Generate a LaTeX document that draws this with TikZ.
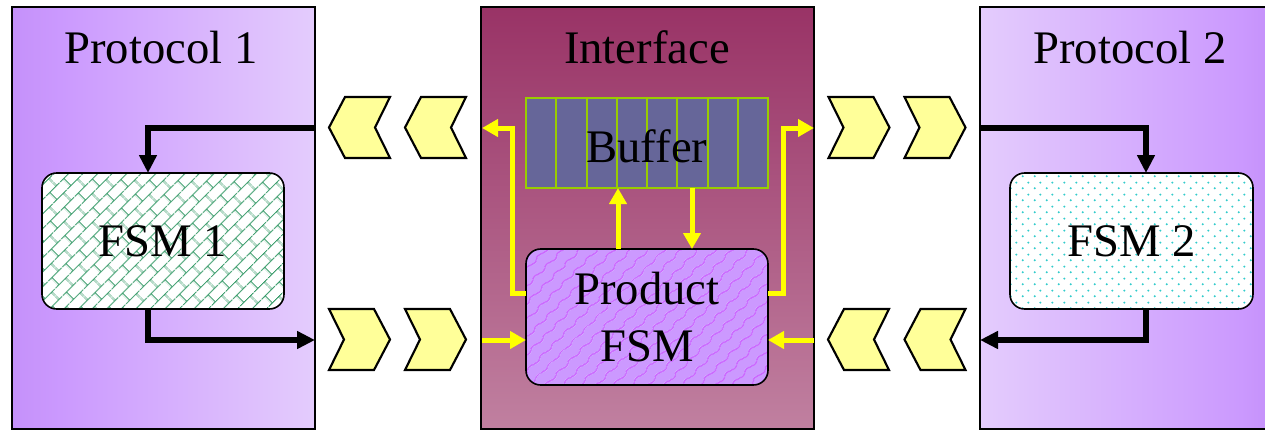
\documentclass[tikz,border=0pt]{standalone}
\usepackage{fontspec}
\setmainfont{Liberation Serif}
\usetikzlibrary{arrows.meta,patterns.meta,calc}

\definecolor{protoEdge}{RGB}{197,145,250}
\definecolor{protoDark}{RGB}{203,153,254}
\definecolor{protoLight}{RGB}{228,204,253}
\definecolor{ifTop}{RGB}{153,51,102}
\definecolor{ifBottom}{RGB}{192,128,160}
\definecolor{bufFill}{RGB}{102,102,153}
\definecolor{bufLine}{RGB}{153,204,0}
\definecolor{chevFill}{RGB}{255,255,153}
\definecolor{brickGreen}{RGB}{51,153,102}
\definecolor{dotTeal}{RGB}{51,204,204}
\definecolor{prodFill}{RGB}{204,153,255}
\definecolor{prodLine}{RGB}{204,102,255}
\definecolor{arrowYellow}{RGB}{255,255,0}

% panel gradients (the path box maps to 25bp..75bp)
\pgfdeclarehorizontalshading{protoLeft}{100bp}{color(0bp)=(protoEdge); color(25bp)=(protoEdge); color(33bp)=(protoDark); color(75bp)=(protoLight); color(100bp)=(protoLight)}
\pgfdeclarehorizontalshading{protoRight}{100bp}{color(0bp)=(protoLight); color(25bp)=(protoLight); color(70bp)=(protoDark); color(75bp)=(protoEdge); color(100bp)=(protoEdge)}

% diagonal brick fill
\tikzdeclarepattern{
  name=fsmbricks, type=uncolored,
  bounding box={(0pt,0pt) and (15pt,16pt)},
  tile size={(15pt,16pt)},
  tile transformation={rotate=45},
  code={
    \draw[line width=0.9pt] (0pt,4pt) -- (15pt,4pt) (0pt,12pt) -- (15pt,12pt)
      (3.75pt,4pt) -- (3.75pt,12pt) (11.25pt,12pt) -- (11.25pt,16pt) (11.25pt,0pt) -- (11.25pt,4pt);
  }
}

% staggered dot fill
\tikzdeclarepattern{
  name=fsmdots, type=uncolored,
  bounding box={(0pt,0pt) and (9pt,9pt)},
  tile size={(9pt,9pt)},
  code={
    \fill (2.25pt,2.25pt) circle[radius=0.9pt] (6.75pt,6.75pt) circle[radius=0.9pt];
  }
}

% wavy scale fill
\tikzdeclarepattern{
  name=prodscales, type=uncolored,
  bounding box={(0pt,0pt) and (13pt,9pt)},
  tile size={(13pt,9pt)},
  tile transformation={rotate=45},
  code={
    \draw[line width=1pt] (0pt,4.5pt) .. controls (3.25pt,8.5pt) and (9.75pt,0.5pt) .. (13pt,4.5pt);
  }
}

\tikzset{
  chev/.style={draw=black, fill=chevFill, line width=1.6pt, line join=miter},
  chevR/.pic={\path[chev] (-30.5,-30.5) -- (14.5,-30.5) -- (30.5,0) -- (14.5,30.5) -- (-30.5,30.5) -- (-15.5,0) -- cycle;},
  chevL/.pic={\path[chev] (30.5,-30.5) -- (-14.5,-30.5) -- (-30.5,0) -- (-14.5,30.5) -- (30.5,30.5) -- (15.5,0) -- cycle;}
}

\begin{document}
\begin{tikzpicture}[x=0.75pt,y=-0.75pt,
  every node/.style={inner sep=0pt, outer sep=0pt},
  panel/.style={draw=black, line width=1.5pt, anchor=north west, minimum height=316.5pt},
  title/.style={anchor=base, font=\fontsize{35}{42.75}\selectfont},
  fsmbox/.style={draw=black, line width=1.2pt, rounded corners=11pt, anchor=north west,
    minimum width=181.5pt, minimum height=102pt, align=center,
    font=\fontsize{35}{42.75}\selectfont},
  blk/.style={draw=black, line width=4pt, line join=miter,
    -{Triangle[length=13.5pt,width=12.75pt]}},
  ylw/.style={draw=arrowYellow, line width=3.75pt, line join=miter,
    -{Triangle[length=12pt,width=12.75pt]}},
]
\clip (0,0) rectangle (1265,430);

% panels
\node[panel, minimum width=227.25pt, shading=protoLeft] (p1) at (12,7) {};
\node[panel, minimum width=249.75pt, top color=ifTop, bottom color=ifBottom] (itf) at (481,7) {};
\node[panel, minimum width=217.5pt, shading=protoRight] (p2) at (980,7) {};

\node[title] (t1) at (161,63) {Protocol 1};
\node[title] (ti) at (647,63) {Interface};
\node[title] (t2) at (1130,63) {Protocol 2};

% buffer cells
\node[draw=bufLine, fill=bufFill, line width=1.5pt, anchor=north west,
  minimum width=181.5pt, minimum height=67.5pt] (buf) at (526,98) {};
\foreach \i in {1,...,7}
  \draw[bufLine, line width=1.5pt]
    ($(buf.north west)!\i/8!(buf.north east)$) -- ($(buf.south west)!\i/8!(buf.south east)$);
\node[title] (buftxt) at (647,162) {Buffer};

% state machines
\node[fsmbox, preaction={fill=white}, pattern=fsmbricks, pattern color=brickGreen] (fsm1) at (42,173) {FSM 1};
\node[fsmbox, minimum width=182.25pt, preaction={fill=white}, pattern=fsmdots, pattern color=dotTeal] (fsm2) at (1010,173) {FSM 2};
\node[fsmbox, preaction={fill=prodFill}, pattern=prodscales, pattern color=prodLine] (prod) at (526,249) {Product\\FSM};

% protocol 1 links
\coordinate (p1in) at (315,128);
\coordinate (p1bend) at (148,128);
\coordinate (p1drop) at (148,340);
\coordinate (p1out) at (315,340);
\draw[blk] (p1in) -- (p1bend) -- (p1bend |- fsm1.north);
\draw[blk] (p1drop |- fsm1.south) -- (p1drop) -- (p1out);

% protocol 2 links
\coordinate (p2in) at (980,128);
\coordinate (p2bend) at (1146,128);
\coordinate (p2drop) at (1146,340);
\coordinate (p2out) at (980,340);
\draw[blk] (p2in) -- (p2bend) -- (p2bend |- fsm2.north);
\draw[blk] (p2drop |- fsm2.south) -- (p2drop) -- (p2out);

% interface links
\coordinate (yl1) at (512,293);
\coordinate (yl2) at (512,128);
\coordinate (ylout) at (482,128);
\coordinate (yr1) at (783,293);
\coordinate (yr2) at (783,128);
\coordinate (yrout) at (814,128);
\coordinate (yup) at (618,0);
\coordinate (ydn) at (692,0);
\coordinate (ylin) at (482,340);
\coordinate (yrin) at (814,340);
\draw[ylw] (yl1 -| prod.west) -- (yl1) -- (yl2) -- (ylout);
\draw[ylw] (yr1 -| prod.east) -- (yr1) -- (yr2) -- (yrout);
\draw[ylw] (yup |- prod.north) -- (yup |- buf.south);
\draw[ylw] (ydn |- buf.south) -- (ydn |- prod.north);
\draw[ylw] (ylin) -- (ylin -| prod.west);
\draw[ylw] (yrin) -- (yrin -| prod.east);

% channel chevrons
\pic at (359.5,127.5) {chevL};
\pic at (435.5,127.5) {chevL};
\pic at (359.5,339.5) {chevR};
\pic at (435.5,339.5) {chevR};
\pic at (859,127.5) {chevR};
\pic at (935,127.5) {chevR};
\pic at (858.5,339.5) {chevL};
\pic at (935,339.5) {chevL};
\end{tikzpicture}
\end{document}
